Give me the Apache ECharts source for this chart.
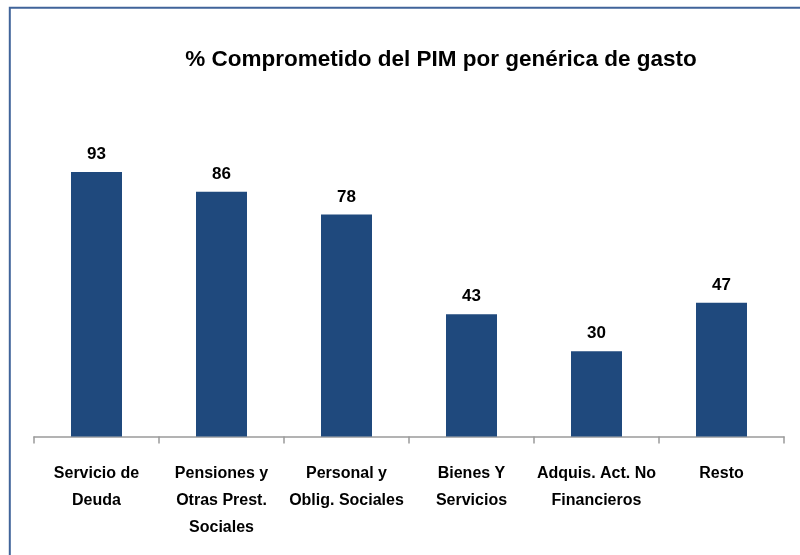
<!DOCTYPE html>
<html>
<head>
<meta charset="utf-8">
<script src="https://cdn.jsdelivr.net/npm/echarts@6/dist/echarts.min.js"></script>
<style>
html,body{margin:0;padding:0;background:#fff;}
#chart{width:800px;height:555px;}
</style>
</head>
<body>
<div id="chart"></div>
<script>
const titleText = '% Comprometido del PIM por genérica de gasto';
const categories = [
  'Servicio de\nDeuda',
  'Pensiones y\nOtras Prest.\nSociales',
  'Personal y\nOblig. Sociales',
  'Bienes Y\nServicios',
  'Adquis. Act. No\nFinancieros',
  'Resto'
];
const values = [93, 86, 78, 43, 30, 47];

const FONT = '"Liberation Sans", Arial, sans-serif';
const chart = echarts.init(document.getElementById('chart'));
chart.setOption({
  backgroundColor: '#ffffff',
  animation: false,
  title: {
    text: titleText,
    left: 436,
    top: 43,
    textAlign: 'center',
    textStyle: { fontFamily: FONT, fontWeight: 'bold', fontSize: 22.5, color: '#000000' }
  },
  graphic: [{
    type: 'rect',
    silent: true,
    shape: { x: 9.8, y: 7.8, width: 810, height: 570 },
    style: { fill: 'none', stroke: '#40649A', lineWidth: 2 }
  }],
  grid: { left: 34, right: 16, top: 152, bottom: 118.5 },
  xAxis: {
    type: 'category',
    data: categories,
    axisLine: { lineStyle: { color: '#9A9A9A', width: 1.5 } },
    axisTick: { show: true, length: 7, lineStyle: { color: '#9A9A9A', width: 1.5 } },
    axisLabel: {
      interval: 0,
      margin: 24,
      fontFamily: FONT,
      fontWeight: 'bold',
      fontSize: 16,
      lineHeight: 27,
      color: '#000000'
    }
  },
  yAxis: {
    type: 'value',
    min: 0,
    max: 100,
    show: false,
    splitLine: { show: false }
  },
  series: [{
    type: 'bar',
    data: values,
    barWidth: 51,
    itemStyle: { color: '#1F497D' },
    label: {
      show: true,
      position: 'top',
      distance: 9,
      fontFamily: FONT,
      fontWeight: 'bold',
      fontSize: 17,
      color: '#000000'
    }
  }]
});
</script>
</body>
</html>
